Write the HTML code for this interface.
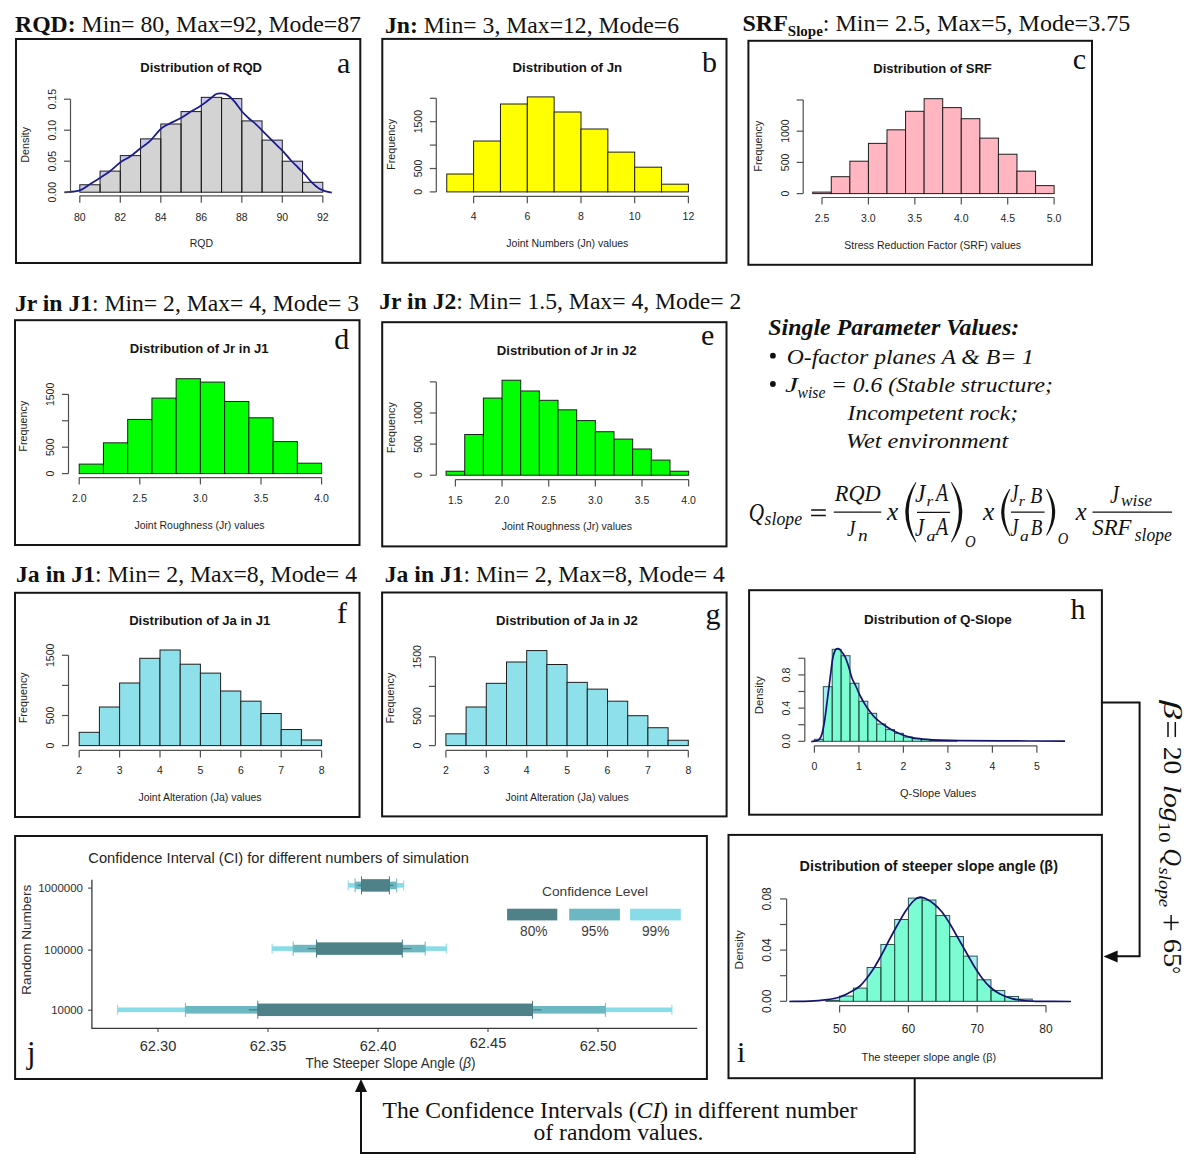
<!DOCTYPE html>
<html><head><meta charset="utf-8"><title>Figure</title>
<style>html,body{margin:0;padding:0;background:#fff;} svg{display:block;}</style></head>
<body><svg width="1200" height="1161" viewBox="0 0 1200 1161">
<rect width="1200" height="1161" fill="#ffffff"/>
<text x="15" y="31.7" font-family="Liberation Serif, serif" font-size="24" fill="#111" textLength="346" lengthAdjust="spacingAndGlyphs"><tspan font-weight="bold">RQD:</tspan> Min= 80, Max=92, Mode=87</text>
<text x="385" y="32.5" font-family="Liberation Serif, serif" font-size="24" fill="#111" textLength="294" lengthAdjust="spacingAndGlyphs"><tspan font-weight="bold">Jn:</tspan> Min= 3, Max=12, Mode=6</text>
<text x="742.5" y="30.5" font-family="Liberation Serif, serif" font-size="24" fill="#111"><tspan font-weight="bold">SRF</tspan><tspan font-weight="bold" font-size="15" dy="5">Slope</tspan><tspan dy="-5">: Min= 2.5, Max=5, Mode=3.75</tspan></text>
<text x="15" y="310.8" font-family="Liberation Serif, serif" font-size="24" fill="#111" textLength="344" lengthAdjust="spacingAndGlyphs"><tspan font-weight="bold">Jr in J1</tspan>: Min= 2, Max= 4, Mode= 3</text>
<text x="379.3" y="309.3" font-family="Liberation Serif, serif" font-size="24" fill="#111" textLength="362" lengthAdjust="spacingAndGlyphs"><tspan font-weight="bold">Jr in J2</tspan>: Min= 1.5, Max= 4, Mode= 2</text>
<text x="16" y="582.1" font-family="Liberation Serif, serif" font-size="24" fill="#111" textLength="341" lengthAdjust="spacingAndGlyphs"><tspan font-weight="bold">Ja in J1</tspan>: Min= 2, Max=8, Mode= 4</text>
<text x="384.8" y="582.1" font-family="Liberation Serif, serif" font-size="24" fill="#111" textLength="340" lengthAdjust="spacingAndGlyphs"><tspan font-weight="bold">Ja in J1</tspan>: Min= 2, Max=8, Mode= 4</text>
<rect x="16" y="39" width="344.3" height="224" fill="none" stroke="#151515" stroke-width="2"/>
<text x="140.25" y="71.7" font-family="Liberation Sans, sans-serif" font-size="13.1" font-style="normal" font-weight="bold" fill="#151515" textLength="121.8" lengthAdjust="spacingAndGlyphs">Distribution of RQD</text>
<text x="337" y="72.6" font-family="Liberation Serif, serif" font-size="30" font-weight="normal" font-style="normal" text-anchor="start" fill="#111" >a</text>
<clipPath id="cla"><path d="M64.7,192.4 C67.22,192.07 75.42,191.87 79.8,190.4 C84.18,188.93 87.58,185.72 91,183.6 C94.42,181.48 97.2,179.72 100.3,177.7 C103.4,175.68 106.23,174.08 109.6,171.5 C112.97,168.92 117.13,164.67 120.5,162.2 C123.87,159.73 126.45,159.03 129.8,156.7 C133.15,154.37 137.25,150.78 140.6,148.2 C143.95,145.62 146.53,144.43 149.9,141.2 C153.27,137.97 157.7,131.63 160.8,128.8 C163.9,125.97 165.15,126 168.5,124.2 C171.85,122.4 177.02,120.2 180.9,118 C184.78,115.8 188.62,112.95 191.8,111 C194.98,109.05 197.67,107.77 200,106.3 C202.33,104.83 203.85,103.67 205.8,102.2 C207.75,100.73 209.95,98.87 211.7,97.5 C213.45,96.13 214.75,94.68 216.3,94 C217.85,93.32 219.53,93.43 221,93.4 C222.47,93.37 223.73,93.32 225.1,93.8 C226.47,94.28 227.55,94.9 229.2,96.3 C230.85,97.7 232.87,99.67 235,102.2 C237.13,104.73 239.67,108.78 242,111.5 C244.33,114.22 246.67,116.37 249,118.5 C251.33,120.63 253.67,122.17 256,124.3 C258.33,126.43 260.67,128.97 263,131.3 C265.33,133.63 267.67,135.97 270,138.3 C272.33,140.63 274.67,142.97 277,145.3 C279.33,147.63 281.67,149.77 284,152.3 C286.33,154.83 288.67,157.97 291,160.5 C293.33,163.03 295.67,165.17 298,167.5 C300.33,169.83 302.67,171.97 305,174.5 C307.33,177.03 309.67,180.37 312,182.7 C314.33,185.03 316.67,187.05 319,188.5 C321.33,189.95 323.87,190.72 326,191.4 C328.13,192.08 330.83,192.4 331.8,192.6 L331.8,197.2 L64.7,197.2 Z"/></clipPath>
<rect x="79.8" y="184.76" width="20.25" height="7.44" fill="#c9c9f2"/>
<rect x="100.05" y="171.12" width="20.25" height="21.08" fill="#c9c9f2"/>
<rect x="120.3" y="155.62" width="20.25" height="36.58" fill="#c9c9f2"/>
<rect x="140.55" y="138.88" width="20.25" height="53.32" fill="#c9c9f2"/>
<rect x="160.8" y="124" width="20.25" height="68.2" fill="#c9c9f2"/>
<rect x="181.05" y="111.6" width="20.25" height="80.6" fill="#c9c9f2"/>
<rect x="201.3" y="97.34" width="20.25" height="94.86" fill="#c9c9f2"/>
<rect x="221.55" y="98.58" width="20.25" height="93.62" fill="#c9c9f2"/>
<rect x="241.8" y="120.9" width="20.25" height="71.3" fill="#c9c9f2"/>
<rect x="262.05" y="140.12" width="20.25" height="52.08" fill="#c9c9f2"/>
<rect x="282.3" y="161.2" width="20.25" height="31" fill="#c9c9f2"/>
<rect x="302.55" y="182.28" width="20.25" height="9.92" fill="#c9c9f2"/>
<g clip-path="url(#cla)">
<rect x="79.8" y="184.76" width="20.25" height="7.44" fill="#d3d3d3"/>
<rect x="100.05" y="171.12" width="20.25" height="21.08" fill="#d3d3d3"/>
<rect x="120.3" y="155.62" width="20.25" height="36.58" fill="#d3d3d3"/>
<rect x="140.55" y="138.88" width="20.25" height="53.32" fill="#d3d3d3"/>
<rect x="160.8" y="124" width="20.25" height="68.2" fill="#d3d3d3"/>
<rect x="181.05" y="111.6" width="20.25" height="80.6" fill="#d3d3d3"/>
<rect x="201.3" y="97.34" width="20.25" height="94.86" fill="#d3d3d3"/>
<rect x="221.55" y="98.58" width="20.25" height="93.62" fill="#d3d3d3"/>
<rect x="241.8" y="120.9" width="20.25" height="71.3" fill="#d3d3d3"/>
<rect x="262.05" y="140.12" width="20.25" height="52.08" fill="#d3d3d3"/>
<rect x="282.3" y="161.2" width="20.25" height="31" fill="#d3d3d3"/>
<rect x="302.55" y="182.28" width="20.25" height="9.92" fill="#d3d3d3"/>
</g>
<rect x="79.8" y="184.76" width="20.25" height="7.44" fill="none" stroke="#1e1e1e" stroke-width="1.0"/>
<rect x="100.05" y="171.12" width="20.25" height="21.08" fill="none" stroke="#1e1e1e" stroke-width="1.0"/>
<rect x="120.3" y="155.62" width="20.25" height="36.58" fill="none" stroke="#1e1e1e" stroke-width="1.0"/>
<rect x="140.55" y="138.88" width="20.25" height="53.32" fill="none" stroke="#1e1e1e" stroke-width="1.0"/>
<rect x="160.8" y="124" width="20.25" height="68.2" fill="none" stroke="#1e1e1e" stroke-width="1.0"/>
<rect x="181.05" y="111.6" width="20.25" height="80.6" fill="none" stroke="#1e1e1e" stroke-width="1.0"/>
<rect x="201.3" y="97.34" width="20.25" height="94.86" fill="none" stroke="#1e1e1e" stroke-width="1.0"/>
<rect x="221.55" y="98.58" width="20.25" height="93.62" fill="none" stroke="#1e1e1e" stroke-width="1.0"/>
<rect x="241.8" y="120.9" width="20.25" height="71.3" fill="none" stroke="#1e1e1e" stroke-width="1.0"/>
<rect x="262.05" y="140.12" width="20.25" height="52.08" fill="none" stroke="#1e1e1e" stroke-width="1.0"/>
<rect x="282.3" y="161.2" width="20.25" height="31" fill="none" stroke="#1e1e1e" stroke-width="1.0"/>
<rect x="302.55" y="182.28" width="20.25" height="9.92" fill="none" stroke="#1e1e1e" stroke-width="1.0"/>
<path d="M64.7,192.4 C67.22,192.07 75.42,191.87 79.8,190.4 C84.18,188.93 87.58,185.72 91,183.6 C94.42,181.48 97.2,179.72 100.3,177.7 C103.4,175.68 106.23,174.08 109.6,171.5 C112.97,168.92 117.13,164.67 120.5,162.2 C123.87,159.73 126.45,159.03 129.8,156.7 C133.15,154.37 137.25,150.78 140.6,148.2 C143.95,145.62 146.53,144.43 149.9,141.2 C153.27,137.97 157.7,131.63 160.8,128.8 C163.9,125.97 165.15,126 168.5,124.2 C171.85,122.4 177.02,120.2 180.9,118 C184.78,115.8 188.62,112.95 191.8,111 C194.98,109.05 197.67,107.77 200,106.3 C202.33,104.83 203.85,103.67 205.8,102.2 C207.75,100.73 209.95,98.87 211.7,97.5 C213.45,96.13 214.75,94.68 216.3,94 C217.85,93.32 219.53,93.43 221,93.4 C222.47,93.37 223.73,93.32 225.1,93.8 C226.47,94.28 227.55,94.9 229.2,96.3 C230.85,97.7 232.87,99.67 235,102.2 C237.13,104.73 239.67,108.78 242,111.5 C244.33,114.22 246.67,116.37 249,118.5 C251.33,120.63 253.67,122.17 256,124.3 C258.33,126.43 260.67,128.97 263,131.3 C265.33,133.63 267.67,135.97 270,138.3 C272.33,140.63 274.67,142.97 277,145.3 C279.33,147.63 281.67,149.77 284,152.3 C286.33,154.83 288.67,157.97 291,160.5 C293.33,163.03 295.67,165.17 298,167.5 C300.33,169.83 302.67,171.97 305,174.5 C307.33,177.03 309.67,180.37 312,182.7 C314.33,185.03 316.67,187.05 319,188.5 C321.33,189.95 323.87,190.72 326,191.4 C328.13,192.08 330.83,192.4 331.8,192.6" fill="none" stroke="#1c1c8a" stroke-width="1.8" stroke-linejoin="round"/>
<path d="M79.8,195.8 H322.8" stroke="#505050" stroke-width="1.2" fill="none"/>
<path d="M79.8,195.8 V202.8" stroke="#505050" stroke-width="1.2"/>
<text x="79.8" y="220.7" font-family="Liberation Sans, sans-serif" font-size="10.5" font-weight="normal" font-style="normal" text-anchor="middle" fill="#1e1e1e" >80</text>
<path d="M120.3,195.8 V202.8" stroke="#505050" stroke-width="1.2"/>
<text x="120.3" y="220.7" font-family="Liberation Sans, sans-serif" font-size="10.5" font-weight="normal" font-style="normal" text-anchor="middle" fill="#1e1e1e" >82</text>
<path d="M160.8,195.8 V202.8" stroke="#505050" stroke-width="1.2"/>
<text x="160.8" y="220.7" font-family="Liberation Sans, sans-serif" font-size="10.5" font-weight="normal" font-style="normal" text-anchor="middle" fill="#1e1e1e" >84</text>
<path d="M201.3,195.8 V202.8" stroke="#505050" stroke-width="1.2"/>
<text x="201.3" y="220.7" font-family="Liberation Sans, sans-serif" font-size="10.5" font-weight="normal" font-style="normal" text-anchor="middle" fill="#1e1e1e" >86</text>
<path d="M241.8,195.8 V202.8" stroke="#505050" stroke-width="1.2"/>
<text x="241.8" y="220.7" font-family="Liberation Sans, sans-serif" font-size="10.5" font-weight="normal" font-style="normal" text-anchor="middle" fill="#1e1e1e" >88</text>
<path d="M282.3,195.8 V202.8" stroke="#505050" stroke-width="1.2"/>
<text x="282.3" y="220.7" font-family="Liberation Sans, sans-serif" font-size="10.5" font-weight="normal" font-style="normal" text-anchor="middle" fill="#1e1e1e" >90</text>
<path d="M322.8,195.8 V202.8" stroke="#505050" stroke-width="1.2"/>
<text x="322.8" y="220.7" font-family="Liberation Sans, sans-serif" font-size="10.5" font-weight="normal" font-style="normal" text-anchor="middle" fill="#1e1e1e" >92</text>
<path d="M70.5,192.2 V99.2" stroke="#505050" stroke-width="1.2" fill="none"/>
<path d="M70.5,192.2 H64" stroke="#505050" stroke-width="1.2"/>
<text transform="translate(56,192.2) rotate(-90)" font-family="Liberation Sans, sans-serif" font-size="10.5" text-anchor="middle" font-weight="normal" font-style="normal" fill="#1e1e1e">0.00</text>
<path d="M70.5,161.2 H64" stroke="#505050" stroke-width="1.2"/>
<text transform="translate(56,161.2) rotate(-90)" font-family="Liberation Sans, sans-serif" font-size="10.5" text-anchor="middle" font-weight="normal" font-style="normal" fill="#1e1e1e">0.05</text>
<path d="M70.5,130.2 H64" stroke="#505050" stroke-width="1.2"/>
<text transform="translate(56,130.2) rotate(-90)" font-family="Liberation Sans, sans-serif" font-size="10.5" text-anchor="middle" font-weight="normal" font-style="normal" fill="#1e1e1e">0.10</text>
<path d="M70.5,99.2 H64" stroke="#505050" stroke-width="1.2"/>
<text transform="translate(56,99.2) rotate(-90)" font-family="Liberation Sans, sans-serif" font-size="10.5" text-anchor="middle" font-weight="normal" font-style="normal" fill="#1e1e1e">0.15</text>
<text x="201.3" y="247.2" font-family="Liberation Sans, sans-serif" font-size="10.5" font-weight="normal" font-style="normal" text-anchor="middle" fill="#1e1e1e" >RQD</text>
<text transform="translate(29,144.77) rotate(-90)" font-family="Liberation Sans, sans-serif" font-size="10.8" text-anchor="middle" font-weight="normal" font-style="normal" fill="#1e1e1e">Density</text>
<rect x="382.3" y="38.9" width="344.2" height="223.9" fill="none" stroke="#151515" stroke-width="2"/>
<text x="512.54" y="71.6" font-family="Liberation Sans, sans-serif" font-size="13.1" font-style="normal" font-weight="bold" fill="#151515" textLength="109.58" lengthAdjust="spacingAndGlyphs">Distribution of Jn</text>
<text x="702" y="71.6" font-family="Liberation Serif, serif" font-size="30" font-weight="normal" font-style="normal" text-anchor="start" fill="#111" >b</text>
<rect x="446.75" y="174.02" width="26.85" height="17.88" fill="#ffff00" stroke="#1e1e1e" stroke-width="1.0"/>
<rect x="473.6" y="141.03" width="26.85" height="50.87" fill="#ffff00" stroke="#1e1e1e" stroke-width="1.0"/>
<rect x="500.45" y="104.01" width="26.85" height="87.89" fill="#ffff00" stroke="#1e1e1e" stroke-width="1.0"/>
<rect x="527.3" y="96.9" width="26.85" height="95" fill="#ffff00" stroke="#1e1e1e" stroke-width="1.0"/>
<rect x="554.15" y="112.01" width="26.85" height="79.89" fill="#ffff00" stroke="#1e1e1e" stroke-width="1.0"/>
<rect x="581" y="129" width="26.85" height="62.9" fill="#ffff00" stroke="#1e1e1e" stroke-width="1.0"/>
<rect x="607.85" y="152.12" width="26.85" height="39.78" fill="#ffff00" stroke="#1e1e1e" stroke-width="1.0"/>
<rect x="634.7" y="167.19" width="26.85" height="24.71" fill="#ffff00" stroke="#1e1e1e" stroke-width="1.0"/>
<rect x="661.55" y="184.18" width="26.85" height="7.72" fill="#ffff00" stroke="#1e1e1e" stroke-width="1.0"/>
<path d="M473.6,196.3 H688.4" stroke="#505050" stroke-width="1.2" fill="none"/>
<path d="M473.6,196.3 V203.3" stroke="#505050" stroke-width="1.2"/>
<text x="473.6" y="220.1" font-family="Liberation Sans, sans-serif" font-size="10.5" font-weight="normal" font-style="normal" text-anchor="middle" fill="#1e1e1e" >4</text>
<path d="M527.3,196.3 V203.3" stroke="#505050" stroke-width="1.2"/>
<text x="527.3" y="220.1" font-family="Liberation Sans, sans-serif" font-size="10.5" font-weight="normal" font-style="normal" text-anchor="middle" fill="#1e1e1e" >6</text>
<path d="M581,196.3 V203.3" stroke="#505050" stroke-width="1.2"/>
<text x="581" y="220.1" font-family="Liberation Sans, sans-serif" font-size="10.5" font-weight="normal" font-style="normal" text-anchor="middle" fill="#1e1e1e" >8</text>
<path d="M634.7,196.3 V203.3" stroke="#505050" stroke-width="1.2"/>
<text x="634.7" y="220.1" font-family="Liberation Sans, sans-serif" font-size="10.5" font-weight="normal" font-style="normal" text-anchor="middle" fill="#1e1e1e" >10</text>
<path d="M688.4,196.3 V203.3" stroke="#505050" stroke-width="1.2"/>
<text x="688.4" y="220.1" font-family="Liberation Sans, sans-serif" font-size="10.5" font-weight="normal" font-style="normal" text-anchor="middle" fill="#1e1e1e" >12</text>
<path d="M436.3,191.9 V98.3" stroke="#505050" stroke-width="1.2" fill="none"/>
<path d="M436.3,191.9 H429.8" stroke="#505050" stroke-width="1.2"/>
<text transform="translate(421.8,191.9) rotate(-90)" font-family="Liberation Sans, sans-serif" font-size="10.5" text-anchor="middle" font-weight="normal" font-style="normal" fill="#1e1e1e">0</text>
<path d="M436.3,168.5 H429.8" stroke="#505050" stroke-width="1.2"/>
<text transform="translate(421.8,168.5) rotate(-90)" font-family="Liberation Sans, sans-serif" font-size="10.5" text-anchor="middle" font-weight="normal" font-style="normal" fill="#1e1e1e">500</text>
<path d="M436.3,145.1 H429.8" stroke="#505050" stroke-width="1.2"/>
<path d="M436.3,121.7 H429.8" stroke="#505050" stroke-width="1.2"/>
<text transform="translate(421.8,121.7) rotate(-90)" font-family="Liberation Sans, sans-serif" font-size="10.5" text-anchor="middle" font-weight="normal" font-style="normal" fill="#1e1e1e">1500</text>
<path d="M436.3,98.3 H429.8" stroke="#505050" stroke-width="1.2"/>
<text x="567.35" y="246.8" font-family="Liberation Sans, sans-serif" font-size="10.5" font-weight="normal" font-style="normal" text-anchor="middle" fill="#1e1e1e" >Joint Numbers (Jn) values</text>
<text transform="translate(394.8,144.4) rotate(-90)" font-family="Liberation Sans, sans-serif" font-size="10.8" text-anchor="middle" font-weight="normal" font-style="normal" fill="#1e1e1e">Frequency</text>
<rect x="748.4" y="40.8" width="343.6" height="224" fill="none" stroke="#151515" stroke-width="2"/>
<text x="873.25" y="73.2" font-family="Liberation Sans, sans-serif" font-size="13.1" font-style="normal" font-weight="bold" fill="#151515" textLength="118.5" lengthAdjust="spacingAndGlyphs">Distribution of SRF</text>
<text x="1072.8" y="69" font-family="Liberation Serif, serif" font-size="30" font-weight="normal" font-style="normal" text-anchor="start" fill="#111" >c</text>
<rect x="812.72" y="192.1" width="18.57" height="1.5" fill="#ffb6c1" stroke="#1e1e1e" stroke-width="1.0"/>
<rect x="831.28" y="176.69" width="18.57" height="16.91" fill="#ffb6c1" stroke="#1e1e1e" stroke-width="1.0"/>
<rect x="849.86" y="161.21" width="18.57" height="32.39" fill="#ffb6c1" stroke="#1e1e1e" stroke-width="1.0"/>
<rect x="868.42" y="143.37" width="18.57" height="50.23" fill="#ffb6c1" stroke="#1e1e1e" stroke-width="1.0"/>
<rect x="887" y="129.83" width="18.57" height="63.77" fill="#ffb6c1" stroke="#1e1e1e" stroke-width="1.0"/>
<rect x="905.56" y="111.29" width="18.57" height="82.31" fill="#ffb6c1" stroke="#1e1e1e" stroke-width="1.0"/>
<rect x="924.13" y="98.69" width="18.57" height="94.91" fill="#ffb6c1" stroke="#1e1e1e" stroke-width="1.0"/>
<rect x="942.7" y="107.61" width="18.57" height="85.99" fill="#ffb6c1" stroke="#1e1e1e" stroke-width="1.0"/>
<rect x="961.27" y="118.72" width="18.57" height="74.88" fill="#ffb6c1" stroke="#1e1e1e" stroke-width="1.0"/>
<rect x="979.85" y="138.13" width="18.57" height="55.47" fill="#ffb6c1" stroke="#1e1e1e" stroke-width="1.0"/>
<rect x="998.41" y="154.23" width="18.57" height="39.37" fill="#ffb6c1" stroke="#1e1e1e" stroke-width="1.0"/>
<rect x="1016.98" y="171.14" width="18.57" height="22.46" fill="#ffb6c1" stroke="#1e1e1e" stroke-width="1.0"/>
<rect x="1035.56" y="185.61" width="18.57" height="7.99" fill="#ffb6c1" stroke="#1e1e1e" stroke-width="1.0"/>
<path d="M822,197.5 H1054.12" stroke="#505050" stroke-width="1.2" fill="none"/>
<path d="M822,197.5 V204.5" stroke="#505050" stroke-width="1.2"/>
<text x="822" y="221.8" font-family="Liberation Sans, sans-serif" font-size="10.5" font-weight="normal" font-style="normal" text-anchor="middle" fill="#1e1e1e" >2.5</text>
<path d="M868.42,197.5 V204.5" stroke="#505050" stroke-width="1.2"/>
<text x="868.42" y="221.8" font-family="Liberation Sans, sans-serif" font-size="10.5" font-weight="normal" font-style="normal" text-anchor="middle" fill="#1e1e1e" >3.0</text>
<path d="M914.85,197.5 V204.5" stroke="#505050" stroke-width="1.2"/>
<text x="914.85" y="221.8" font-family="Liberation Sans, sans-serif" font-size="10.5" font-weight="normal" font-style="normal" text-anchor="middle" fill="#1e1e1e" >3.5</text>
<path d="M961.27,197.5 V204.5" stroke="#505050" stroke-width="1.2"/>
<text x="961.27" y="221.8" font-family="Liberation Sans, sans-serif" font-size="10.5" font-weight="normal" font-style="normal" text-anchor="middle" fill="#1e1e1e" >4.0</text>
<path d="M1007.7,197.5 V204.5" stroke="#505050" stroke-width="1.2"/>
<text x="1007.7" y="221.8" font-family="Liberation Sans, sans-serif" font-size="10.5" font-weight="normal" font-style="normal" text-anchor="middle" fill="#1e1e1e" >4.5</text>
<path d="M1054.12,197.5 V204.5" stroke="#505050" stroke-width="1.2"/>
<text x="1054.12" y="221.8" font-family="Liberation Sans, sans-serif" font-size="10.5" font-weight="normal" font-style="normal" text-anchor="middle" fill="#1e1e1e" >5.0</text>
<path d="M803.2,193.6 V100" stroke="#505050" stroke-width="1.2" fill="none"/>
<path d="M803.2,193.6 H796.7" stroke="#505050" stroke-width="1.2"/>
<text transform="translate(788.7,193.6) rotate(-90)" font-family="Liberation Sans, sans-serif" font-size="10.5" text-anchor="middle" font-weight="normal" font-style="normal" fill="#1e1e1e">0</text>
<path d="M803.2,162.4 H796.7" stroke="#505050" stroke-width="1.2"/>
<text transform="translate(788.7,162.4) rotate(-90)" font-family="Liberation Sans, sans-serif" font-size="10.5" text-anchor="middle" font-weight="normal" font-style="normal" fill="#1e1e1e">500</text>
<path d="M803.2,131.2 H796.7" stroke="#505050" stroke-width="1.2"/>
<text transform="translate(788.7,131.2) rotate(-90)" font-family="Liberation Sans, sans-serif" font-size="10.5" text-anchor="middle" font-weight="normal" font-style="normal" fill="#1e1e1e">1000</text>
<path d="M803.2,100 H796.7" stroke="#505050" stroke-width="1.2"/>
<text x="932.7" y="248.5" font-family="Liberation Sans, sans-serif" font-size="10.5" font-weight="normal" font-style="normal" text-anchor="middle" fill="#1e1e1e" >Stress Reduction Factor (SRF) values</text>
<text transform="translate(761.7,146.14) rotate(-90)" font-family="Liberation Sans, sans-serif" font-size="10.8" text-anchor="middle" font-weight="normal" font-style="normal" fill="#1e1e1e">Frequency</text>
<rect x="15" y="320.2" width="344.5" height="224.8" fill="none" stroke="#151515" stroke-width="2"/>
<text x="129.85" y="353" font-family="Liberation Sans, sans-serif" font-size="13.1" font-style="normal" font-weight="bold" fill="#151515" textLength="138.8" lengthAdjust="spacingAndGlyphs">Distribution of Jr in J1</text>
<text x="334.3" y="349.4" font-family="Liberation Serif, serif" font-size="30" font-weight="normal" font-style="normal" text-anchor="start" fill="#111" >d</text>
<rect x="79.2" y="464.1" width="24.24" height="9.5" fill="#00ff00" stroke="#1e1e1e" stroke-width="1.0"/>
<rect x="103.44" y="442.82" width="24.24" height="30.78" fill="#00ff00" stroke="#1e1e1e" stroke-width="1.0"/>
<rect x="127.68" y="419.43" width="24.24" height="54.17" fill="#00ff00" stroke="#1e1e1e" stroke-width="1.0"/>
<rect x="151.92" y="398.1" width="24.24" height="75.5" fill="#00ff00" stroke="#1e1e1e" stroke-width="1.0"/>
<rect x="176.16" y="378.72" width="24.24" height="94.88" fill="#00ff00" stroke="#1e1e1e" stroke-width="1.0"/>
<rect x="200.4" y="382.1" width="24.24" height="91.5" fill="#00ff00" stroke="#1e1e1e" stroke-width="1.0"/>
<rect x="224.64" y="401.48" width="24.24" height="72.12" fill="#00ff00" stroke="#1e1e1e" stroke-width="1.0"/>
<rect x="248.88" y="417.79" width="24.24" height="55.81" fill="#00ff00" stroke="#1e1e1e" stroke-width="1.0"/>
<rect x="273.12" y="441.6" width="24.24" height="32" fill="#00ff00" stroke="#1e1e1e" stroke-width="1.0"/>
<rect x="297.36" y="463.2" width="24.24" height="10.4" fill="#00ff00" stroke="#1e1e1e" stroke-width="1.0"/>
<path d="M79.2,477.6 H321.6" stroke="#505050" stroke-width="1.2" fill="none"/>
<path d="M79.2,477.6 V484.6" stroke="#505050" stroke-width="1.2"/>
<text x="79.2" y="501.8" font-family="Liberation Sans, sans-serif" font-size="10.5" font-weight="normal" font-style="normal" text-anchor="middle" fill="#1e1e1e" >2.0</text>
<path d="M139.8,477.6 V484.6" stroke="#505050" stroke-width="1.2"/>
<text x="139.8" y="501.8" font-family="Liberation Sans, sans-serif" font-size="10.5" font-weight="normal" font-style="normal" text-anchor="middle" fill="#1e1e1e" >2.5</text>
<path d="M200.4,477.6 V484.6" stroke="#505050" stroke-width="1.2"/>
<text x="200.4" y="501.8" font-family="Liberation Sans, sans-serif" font-size="10.5" font-weight="normal" font-style="normal" text-anchor="middle" fill="#1e1e1e" >3.0</text>
<path d="M261,477.6 V484.6" stroke="#505050" stroke-width="1.2"/>
<text x="261" y="501.8" font-family="Liberation Sans, sans-serif" font-size="10.5" font-weight="normal" font-style="normal" text-anchor="middle" fill="#1e1e1e" >3.5</text>
<path d="M321.6,477.6 V484.6" stroke="#505050" stroke-width="1.2"/>
<text x="321.6" y="501.8" font-family="Liberation Sans, sans-serif" font-size="10.5" font-weight="normal" font-style="normal" text-anchor="middle" fill="#1e1e1e" >4.0</text>
<path d="M68.5,473.6 V394.4" stroke="#505050" stroke-width="1.2" fill="none"/>
<path d="M68.5,473.6 H62" stroke="#505050" stroke-width="1.2"/>
<text transform="translate(54,473.6) rotate(-90)" font-family="Liberation Sans, sans-serif" font-size="10.5" text-anchor="middle" font-weight="normal" font-style="normal" fill="#1e1e1e">0</text>
<path d="M68.5,447.2 H62" stroke="#505050" stroke-width="1.2"/>
<text transform="translate(54,447.2) rotate(-90)" font-family="Liberation Sans, sans-serif" font-size="10.5" text-anchor="middle" font-weight="normal" font-style="normal" fill="#1e1e1e">500</text>
<path d="M68.5,420.8 H62" stroke="#505050" stroke-width="1.2"/>
<path d="M68.5,394.4 H62" stroke="#505050" stroke-width="1.2"/>
<text transform="translate(54,394.4) rotate(-90)" font-family="Liberation Sans, sans-serif" font-size="10.5" text-anchor="middle" font-weight="normal" font-style="normal" fill="#1e1e1e">1500</text>
<text x="199.5" y="528.6" font-family="Liberation Sans, sans-serif" font-size="10.5" font-weight="normal" font-style="normal" text-anchor="middle" fill="#1e1e1e" >Joint Roughness (Jr) values</text>
<text transform="translate(27,426.16) rotate(-90)" font-family="Liberation Sans, sans-serif" font-size="10.8" text-anchor="middle" font-weight="normal" font-style="normal" fill="#1e1e1e">Frequency</text>
<rect x="382.2" y="322.2" width="344.3" height="224.2" fill="none" stroke="#151515" stroke-width="2"/>
<text x="496.84" y="355" font-family="Liberation Sans, sans-serif" font-size="13.1" font-style="normal" font-weight="bold" fill="#151515" textLength="139.71" lengthAdjust="spacingAndGlyphs">Distribution of Jr in J2</text>
<text x="701" y="344.5" font-family="Liberation Serif, serif" font-size="30" font-weight="normal" font-style="normal" text-anchor="start" fill="#111" >e</text>
<rect x="446.07" y="471.22" width="18.66" height="3.98" fill="#00ff00" stroke="#1e1e1e" stroke-width="1.0"/>
<rect x="464.73" y="434.52" width="18.66" height="40.68" fill="#00ff00" stroke="#1e1e1e" stroke-width="1.0"/>
<rect x="483.39" y="398.07" width="18.66" height="77.13" fill="#00ff00" stroke="#1e1e1e" stroke-width="1.0"/>
<rect x="502.05" y="380.22" width="18.66" height="94.98" fill="#00ff00" stroke="#1e1e1e" stroke-width="1.0"/>
<rect x="520.71" y="390.98" width="18.66" height="84.22" fill="#00ff00" stroke="#1e1e1e" stroke-width="1.0"/>
<rect x="539.37" y="400.31" width="18.66" height="74.89" fill="#00ff00" stroke="#1e1e1e" stroke-width="1.0"/>
<rect x="558.03" y="409.83" width="18.66" height="65.37" fill="#00ff00" stroke="#1e1e1e" stroke-width="1.0"/>
<rect x="576.69" y="420.59" width="18.66" height="54.61" fill="#00ff00" stroke="#1e1e1e" stroke-width="1.0"/>
<rect x="595.35" y="431.72" width="18.66" height="43.48" fill="#00ff00" stroke="#1e1e1e" stroke-width="1.0"/>
<rect x="614.01" y="439.12" width="18.66" height="36.08" fill="#00ff00" stroke="#1e1e1e" stroke-width="1.0"/>
<rect x="632.67" y="449.01" width="18.66" height="26.19" fill="#00ff00" stroke="#1e1e1e" stroke-width="1.0"/>
<rect x="651.33" y="460.09" width="18.66" height="15.11" fill="#00ff00" stroke="#1e1e1e" stroke-width="1.0"/>
<rect x="669.99" y="471.22" width="18.66" height="3.98" fill="#00ff00" stroke="#1e1e1e" stroke-width="1.0"/>
<path d="M455.4,479.6 H688.65" stroke="#505050" stroke-width="1.2" fill="none"/>
<path d="M455.4,479.6 V486.6" stroke="#505050" stroke-width="1.2"/>
<text x="455.4" y="503.8" font-family="Liberation Sans, sans-serif" font-size="10.5" font-weight="normal" font-style="normal" text-anchor="middle" fill="#1e1e1e" >1.5</text>
<path d="M502.05,479.6 V486.6" stroke="#505050" stroke-width="1.2"/>
<text x="502.05" y="503.8" font-family="Liberation Sans, sans-serif" font-size="10.5" font-weight="normal" font-style="normal" text-anchor="middle" fill="#1e1e1e" >2.0</text>
<path d="M548.7,479.6 V486.6" stroke="#505050" stroke-width="1.2"/>
<text x="548.7" y="503.8" font-family="Liberation Sans, sans-serif" font-size="10.5" font-weight="normal" font-style="normal" text-anchor="middle" fill="#1e1e1e" >2.5</text>
<path d="M595.35,479.6 V486.6" stroke="#505050" stroke-width="1.2"/>
<text x="595.35" y="503.8" font-family="Liberation Sans, sans-serif" font-size="10.5" font-weight="normal" font-style="normal" text-anchor="middle" fill="#1e1e1e" >3.0</text>
<path d="M642,479.6 V486.6" stroke="#505050" stroke-width="1.2"/>
<text x="642" y="503.8" font-family="Liberation Sans, sans-serif" font-size="10.5" font-weight="normal" font-style="normal" text-anchor="middle" fill="#1e1e1e" >3.5</text>
<path d="M688.65,479.6 V486.6" stroke="#505050" stroke-width="1.2"/>
<text x="688.65" y="503.8" font-family="Liberation Sans, sans-serif" font-size="10.5" font-weight="normal" font-style="normal" text-anchor="middle" fill="#1e1e1e" >4.0</text>
<path d="M436.3,475.2 V381.9" stroke="#505050" stroke-width="1.2" fill="none"/>
<path d="M436.3,475.2 H429.8" stroke="#505050" stroke-width="1.2"/>
<text transform="translate(421.8,475.2) rotate(-90)" font-family="Liberation Sans, sans-serif" font-size="10.5" text-anchor="middle" font-weight="normal" font-style="normal" fill="#1e1e1e">0</text>
<path d="M436.3,444.1 H429.8" stroke="#505050" stroke-width="1.2"/>
<text transform="translate(421.8,444.1) rotate(-90)" font-family="Liberation Sans, sans-serif" font-size="10.5" text-anchor="middle" font-weight="normal" font-style="normal" fill="#1e1e1e">500</text>
<path d="M436.3,413 H429.8" stroke="#505050" stroke-width="1.2"/>
<text transform="translate(421.8,413) rotate(-90)" font-family="Liberation Sans, sans-serif" font-size="10.5" text-anchor="middle" font-weight="normal" font-style="normal" fill="#1e1e1e">1000</text>
<path d="M436.3,381.9 H429.8" stroke="#505050" stroke-width="1.2"/>
<text x="566.85" y="530.2" font-family="Liberation Sans, sans-serif" font-size="10.5" font-weight="normal" font-style="normal" text-anchor="middle" fill="#1e1e1e" >Joint Roughness (Jr) values</text>
<text transform="translate(394.8,427.71) rotate(-90)" font-family="Liberation Sans, sans-serif" font-size="10.8" text-anchor="middle" font-weight="normal" font-style="normal" fill="#1e1e1e">Frequency</text>
<rect x="15" y="592.8" width="344.5" height="224.2" fill="none" stroke="#151515" stroke-width="2"/>
<text x="129.15" y="625.1" font-family="Liberation Sans, sans-serif" font-size="13.1" font-style="normal" font-weight="bold" fill="#151515" textLength="141.17" lengthAdjust="spacingAndGlyphs">Distribution of Ja in J1</text>
<text x="337" y="623.2" font-family="Liberation Serif, serif" font-size="30" font-weight="normal" font-style="normal" text-anchor="start" fill="#111" >f</text>
<rect x="79.2" y="732.3" width="20.2" height="13.3" fill="#8ee0ea" stroke="#1e1e1e" stroke-width="1.0"/>
<rect x="99.4" y="707.01" width="20.2" height="38.59" fill="#8ee0ea" stroke="#1e1e1e" stroke-width="1.0"/>
<rect x="119.6" y="682.99" width="20.2" height="62.61" fill="#8ee0ea" stroke="#1e1e1e" stroke-width="1.0"/>
<rect x="139.8" y="658.31" width="20.2" height="87.29" fill="#8ee0ea" stroke="#1e1e1e" stroke-width="1.0"/>
<rect x="160" y="650" width="20.2" height="95.6" fill="#8ee0ea" stroke="#1e1e1e" stroke-width="1.0"/>
<rect x="180.2" y="664.21" width="20.2" height="81.39" fill="#8ee0ea" stroke="#1e1e1e" stroke-width="1.0"/>
<rect x="200.4" y="673.12" width="20.2" height="72.48" fill="#8ee0ea" stroke="#1e1e1e" stroke-width="1.0"/>
<rect x="220.6" y="691" width="20.2" height="54.6" fill="#8ee0ea" stroke="#1e1e1e" stroke-width="1.0"/>
<rect x="240.8" y="701.17" width="20.2" height="44.43" fill="#8ee0ea" stroke="#1e1e1e" stroke-width="1.0"/>
<rect x="261" y="713.51" width="20.2" height="32.09" fill="#8ee0ea" stroke="#1e1e1e" stroke-width="1.0"/>
<rect x="281.2" y="729.53" width="20.2" height="16.07" fill="#8ee0ea" stroke="#1e1e1e" stroke-width="1.0"/>
<rect x="301.4" y="740" width="20.2" height="5.6" fill="#8ee0ea" stroke="#1e1e1e" stroke-width="1.0"/>
<path d="M79.2,750.4 H321.6" stroke="#505050" stroke-width="1.2" fill="none"/>
<path d="M79.2,750.4 V757.4" stroke="#505050" stroke-width="1.2"/>
<text x="79.2" y="773.8" font-family="Liberation Sans, sans-serif" font-size="10.5" font-weight="normal" font-style="normal" text-anchor="middle" fill="#1e1e1e" >2</text>
<path d="M119.6,750.4 V757.4" stroke="#505050" stroke-width="1.2"/>
<text x="119.6" y="773.8" font-family="Liberation Sans, sans-serif" font-size="10.5" font-weight="normal" font-style="normal" text-anchor="middle" fill="#1e1e1e" >3</text>
<path d="M160,750.4 V757.4" stroke="#505050" stroke-width="1.2"/>
<text x="160" y="773.8" font-family="Liberation Sans, sans-serif" font-size="10.5" font-weight="normal" font-style="normal" text-anchor="middle" fill="#1e1e1e" >4</text>
<path d="M200.4,750.4 V757.4" stroke="#505050" stroke-width="1.2"/>
<text x="200.4" y="773.8" font-family="Liberation Sans, sans-serif" font-size="10.5" font-weight="normal" font-style="normal" text-anchor="middle" fill="#1e1e1e" >5</text>
<path d="M240.8,750.4 V757.4" stroke="#505050" stroke-width="1.2"/>
<text x="240.8" y="773.8" font-family="Liberation Sans, sans-serif" font-size="10.5" font-weight="normal" font-style="normal" text-anchor="middle" fill="#1e1e1e" >6</text>
<path d="M281.2,750.4 V757.4" stroke="#505050" stroke-width="1.2"/>
<text x="281.2" y="773.8" font-family="Liberation Sans, sans-serif" font-size="10.5" font-weight="normal" font-style="normal" text-anchor="middle" fill="#1e1e1e" >7</text>
<path d="M321.6,750.4 V757.4" stroke="#505050" stroke-width="1.2"/>
<text x="321.6" y="773.8" font-family="Liberation Sans, sans-serif" font-size="10.5" font-weight="normal" font-style="normal" text-anchor="middle" fill="#1e1e1e" >8</text>
<path d="M68.5,745.6 V655.3" stroke="#505050" stroke-width="1.2" fill="none"/>
<path d="M68.5,745.6 H62" stroke="#505050" stroke-width="1.2"/>
<text transform="translate(54,745.6) rotate(-90)" font-family="Liberation Sans, sans-serif" font-size="10.5" text-anchor="middle" font-weight="normal" font-style="normal" fill="#1e1e1e">0</text>
<path d="M68.5,715.5 H62" stroke="#505050" stroke-width="1.2"/>
<text transform="translate(54,715.5) rotate(-90)" font-family="Liberation Sans, sans-serif" font-size="10.5" text-anchor="middle" font-weight="normal" font-style="normal" fill="#1e1e1e">500</text>
<path d="M68.5,685.4 H62" stroke="#505050" stroke-width="1.2"/>
<path d="M68.5,655.3 H62" stroke="#505050" stroke-width="1.2"/>
<text transform="translate(54,655.3) rotate(-90)" font-family="Liberation Sans, sans-serif" font-size="10.5" text-anchor="middle" font-weight="normal" font-style="normal" fill="#1e1e1e">1500</text>
<text x="200" y="800.5" font-family="Liberation Sans, sans-serif" font-size="10.5" font-weight="normal" font-style="normal" text-anchor="middle" fill="#1e1e1e" >Joint Alteration (Ja) values</text>
<text transform="translate(27,697.8) rotate(-90)" font-family="Liberation Sans, sans-serif" font-size="10.8" text-anchor="middle" font-weight="normal" font-style="normal" fill="#1e1e1e">Frequency</text>
<rect x="382.1" y="592.5" width="344.5" height="223.9" fill="none" stroke="#151515" stroke-width="2"/>
<text x="496.05" y="625" font-family="Liberation Sans, sans-serif" font-size="13.1" font-style="normal" font-weight="bold" fill="#151515" textLength="141.77" lengthAdjust="spacingAndGlyphs">Distribution of Ja in J2</text>
<text x="705.5" y="624" font-family="Liberation Serif, serif" font-size="30" font-weight="normal" font-style="normal" text-anchor="start" fill="#111" >g</text>
<rect x="445.9" y="733.82" width="20.2" height="11.78" fill="#8ee0ea" stroke="#1e1e1e" stroke-width="1.0"/>
<rect x="466.1" y="707" width="20.2" height="38.6" fill="#8ee0ea" stroke="#1e1e1e" stroke-width="1.0"/>
<rect x="486.3" y="683.32" width="20.2" height="62.28" fill="#8ee0ea" stroke="#1e1e1e" stroke-width="1.0"/>
<rect x="506.5" y="662.01" width="20.2" height="83.59" fill="#8ee0ea" stroke="#1e1e1e" stroke-width="1.0"/>
<rect x="526.7" y="650.58" width="20.2" height="95.02" fill="#8ee0ea" stroke="#1e1e1e" stroke-width="1.0"/>
<rect x="546.9" y="664.5" width="20.2" height="81.1" fill="#8ee0ea" stroke="#1e1e1e" stroke-width="1.0"/>
<rect x="567.1" y="682.37" width="20.2" height="63.23" fill="#8ee0ea" stroke="#1e1e1e" stroke-width="1.0"/>
<rect x="587.3" y="689.12" width="20.2" height="56.48" fill="#8ee0ea" stroke="#1e1e1e" stroke-width="1.0"/>
<rect x="607.5" y="701.2" width="20.2" height="44.4" fill="#8ee0ea" stroke="#1e1e1e" stroke-width="1.0"/>
<rect x="627.7" y="715.7" width="20.2" height="29.9" fill="#8ee0ea" stroke="#1e1e1e" stroke-width="1.0"/>
<rect x="647.9" y="727.72" width="20.2" height="17.88" fill="#8ee0ea" stroke="#1e1e1e" stroke-width="1.0"/>
<rect x="668.1" y="740.27" width="20.2" height="5.33" fill="#8ee0ea" stroke="#1e1e1e" stroke-width="1.0"/>
<path d="M445.9,750.4 H688.3" stroke="#505050" stroke-width="1.2" fill="none"/>
<path d="M445.9,750.4 V757.4" stroke="#505050" stroke-width="1.2"/>
<text x="445.9" y="773.8" font-family="Liberation Sans, sans-serif" font-size="10.5" font-weight="normal" font-style="normal" text-anchor="middle" fill="#1e1e1e" >2</text>
<path d="M486.3,750.4 V757.4" stroke="#505050" stroke-width="1.2"/>
<text x="486.3" y="773.8" font-family="Liberation Sans, sans-serif" font-size="10.5" font-weight="normal" font-style="normal" text-anchor="middle" fill="#1e1e1e" >3</text>
<path d="M526.7,750.4 V757.4" stroke="#505050" stroke-width="1.2"/>
<text x="526.7" y="773.8" font-family="Liberation Sans, sans-serif" font-size="10.5" font-weight="normal" font-style="normal" text-anchor="middle" fill="#1e1e1e" >4</text>
<path d="M567.1,750.4 V757.4" stroke="#505050" stroke-width="1.2"/>
<text x="567.1" y="773.8" font-family="Liberation Sans, sans-serif" font-size="10.5" font-weight="normal" font-style="normal" text-anchor="middle" fill="#1e1e1e" >5</text>
<path d="M607.5,750.4 V757.4" stroke="#505050" stroke-width="1.2"/>
<text x="607.5" y="773.8" font-family="Liberation Sans, sans-serif" font-size="10.5" font-weight="normal" font-style="normal" text-anchor="middle" fill="#1e1e1e" >6</text>
<path d="M647.9,750.4 V757.4" stroke="#505050" stroke-width="1.2"/>
<text x="647.9" y="773.8" font-family="Liberation Sans, sans-serif" font-size="10.5" font-weight="normal" font-style="normal" text-anchor="middle" fill="#1e1e1e" >7</text>
<path d="M688.3,750.4 V757.4" stroke="#505050" stroke-width="1.2"/>
<text x="688.3" y="773.8" font-family="Liberation Sans, sans-serif" font-size="10.5" font-weight="normal" font-style="normal" text-anchor="middle" fill="#1e1e1e" >8</text>
<path d="M435.4,745.6 V656.8" stroke="#505050" stroke-width="1.2" fill="none"/>
<path d="M435.4,745.6 H428.9" stroke="#505050" stroke-width="1.2"/>
<text transform="translate(420.9,745.6) rotate(-90)" font-family="Liberation Sans, sans-serif" font-size="10.5" text-anchor="middle" font-weight="normal" font-style="normal" fill="#1e1e1e">0</text>
<path d="M435.4,716 H428.9" stroke="#505050" stroke-width="1.2"/>
<text transform="translate(420.9,716) rotate(-90)" font-family="Liberation Sans, sans-serif" font-size="10.5" text-anchor="middle" font-weight="normal" font-style="normal" fill="#1e1e1e">500</text>
<path d="M435.4,686.4 H428.9" stroke="#505050" stroke-width="1.2"/>
<path d="M435.4,656.8 H428.9" stroke="#505050" stroke-width="1.2"/>
<text transform="translate(420.9,656.8) rotate(-90)" font-family="Liberation Sans, sans-serif" font-size="10.5" text-anchor="middle" font-weight="normal" font-style="normal" fill="#1e1e1e">1500</text>
<text x="567.1" y="801" font-family="Liberation Sans, sans-serif" font-size="10.5" font-weight="normal" font-style="normal" text-anchor="middle" fill="#1e1e1e" >Joint Alteration (Ja) values</text>
<text transform="translate(393.9,698.09) rotate(-90)" font-family="Liberation Sans, sans-serif" font-size="10.8" text-anchor="middle" font-weight="normal" font-style="normal" fill="#1e1e1e">Frequency</text>
<rect x="749.1" y="590.2" width="352.8" height="224.5" fill="none" stroke="#151515" stroke-width="2"/>
<text x="864.12" y="623.75" font-family="Liberation Sans, sans-serif" font-size="13.6" font-style="normal" font-weight="bold" fill="#151515" textLength="147.6" lengthAdjust="spacingAndGlyphs">Distribution of Q-Slope</text>
<text x="1070.5" y="618.6" font-family="Liberation Serif, serif" font-size="30" font-weight="normal" font-style="normal" text-anchor="start" fill="#111" >h</text>
<clipPath id="clh"><path d="M811.3,741.6 C812.53,741.32 816.92,741.2 818.7,739.9 C820.48,738.6 821,737.12 822,733.8 C823,730.48 823.82,725.63 824.7,720 C825.58,714.37 826.42,706.83 827.3,700 C828.18,693.17 829.1,685.92 830,679 C830.9,672.08 831.82,663.33 832.7,658.5 C833.58,653.67 834.42,651.63 835.3,650 C836.18,648.37 837.1,648.62 838,648.7 C838.9,648.78 839.48,649.07 840.7,650.5 C841.92,651.93 843.97,654.6 845.3,657.3 C846.63,660 847.58,663.2 848.7,666.7 C849.82,670.2 850.78,675 852,678.3 C853.22,681.6 854.67,683.63 856,686.5 C857.33,689.37 858.67,692.8 860,695.5 C861.33,698.2 862.45,700.17 864,702.7 C865.55,705.23 867.3,708.03 869.3,710.7 C871.3,713.37 873.77,716.48 876,718.7 C878.23,720.92 880.25,722.23 882.7,724 C885.15,725.77 888.03,727.75 890.7,729.3 C893.37,730.85 896.03,732.13 898.7,733.3 C901.37,734.47 904.03,735.48 906.7,736.3 C909.37,737.12 911.37,737.68 914.7,738.2 C918.03,738.72 922.48,739.08 926.7,739.4 C930.92,739.72 934.45,739.9 940,740.1 C945.55,740.3 950,740.47 960,740.6 C970,740.73 982.5,740.82 1000,740.9 C1017.5,740.98 1054.17,741.07 1065,741.1 L1065,746.3 L811.3,746.3 Z"/></clipPath>
<rect x="814.4" y="739.31" width="8.9" height="1.99" fill="#a8eef6"/>
<rect x="823.3" y="686.69" width="8.9" height="54.61" fill="#a8eef6"/>
<rect x="832.2" y="649.34" width="8.9" height="91.96" fill="#a8eef6"/>
<rect x="841.1" y="655.73" width="8.9" height="85.57" fill="#a8eef6"/>
<rect x="850" y="683.28" width="8.9" height="58.02" fill="#a8eef6"/>
<rect x="858.9" y="701.29" width="8.9" height="40.01" fill="#a8eef6"/>
<rect x="867.8" y="713.33" width="8.9" height="27.97" fill="#a8eef6"/>
<rect x="876.7" y="724.04" width="8.9" height="17.26" fill="#a8eef6"/>
<rect x="885.6" y="729.6" width="8.9" height="11.7" fill="#a8eef6"/>
<rect x="894.5" y="733.33" width="8.9" height="7.97" fill="#a8eef6"/>
<rect x="903.4" y="737.07" width="8.9" height="4.23" fill="#a8eef6"/>
<rect x="912.3" y="738.73" width="8.9" height="2.57" fill="#a8eef6"/>
<rect x="921.2" y="739.64" width="8.9" height="1.66" fill="#a8eef6"/>
<rect x="930.1" y="740.3" width="8.9" height="1" fill="#a8eef6"/>
<rect x="939" y="740.64" width="8.9" height="0.66" fill="#a8eef6"/>
<rect x="947.9" y="740.88" width="8.9" height="0.41" fill="#a8eef6"/>
<g clip-path="url(#clh)">
<rect x="814.4" y="739.31" width="8.9" height="1.99" fill="#7cfcd2"/>
<rect x="823.3" y="686.69" width="8.9" height="54.61" fill="#7cfcd2"/>
<rect x="832.2" y="649.34" width="8.9" height="91.96" fill="#7cfcd2"/>
<rect x="841.1" y="655.73" width="8.9" height="85.57" fill="#7cfcd2"/>
<rect x="850" y="683.28" width="8.9" height="58.02" fill="#7cfcd2"/>
<rect x="858.9" y="701.29" width="8.9" height="40.01" fill="#7cfcd2"/>
<rect x="867.8" y="713.33" width="8.9" height="27.97" fill="#7cfcd2"/>
<rect x="876.7" y="724.04" width="8.9" height="17.26" fill="#7cfcd2"/>
<rect x="885.6" y="729.6" width="8.9" height="11.7" fill="#7cfcd2"/>
<rect x="894.5" y="733.33" width="8.9" height="7.97" fill="#7cfcd2"/>
<rect x="903.4" y="737.07" width="8.9" height="4.23" fill="#7cfcd2"/>
<rect x="912.3" y="738.73" width="8.9" height="2.57" fill="#7cfcd2"/>
<rect x="921.2" y="739.64" width="8.9" height="1.66" fill="#7cfcd2"/>
<rect x="930.1" y="740.3" width="8.9" height="1" fill="#7cfcd2"/>
<rect x="939" y="740.64" width="8.9" height="0.66" fill="#7cfcd2"/>
<rect x="947.9" y="740.88" width="8.9" height="0.41" fill="#7cfcd2"/>
</g>
<rect x="814.4" y="739.31" width="8.9" height="1.99" fill="none" stroke="#28564a" stroke-width="1.0"/>
<rect x="823.3" y="686.69" width="8.9" height="54.61" fill="none" stroke="#28564a" stroke-width="1.0"/>
<rect x="832.2" y="649.34" width="8.9" height="91.96" fill="none" stroke="#28564a" stroke-width="1.0"/>
<rect x="841.1" y="655.73" width="8.9" height="85.57" fill="none" stroke="#28564a" stroke-width="1.0"/>
<rect x="850" y="683.28" width="8.9" height="58.02" fill="none" stroke="#28564a" stroke-width="1.0"/>
<rect x="858.9" y="701.29" width="8.9" height="40.01" fill="none" stroke="#28564a" stroke-width="1.0"/>
<rect x="867.8" y="713.33" width="8.9" height="27.97" fill="none" stroke="#28564a" stroke-width="1.0"/>
<rect x="876.7" y="724.04" width="8.9" height="17.26" fill="none" stroke="#28564a" stroke-width="1.0"/>
<rect x="885.6" y="729.6" width="8.9" height="11.7" fill="none" stroke="#28564a" stroke-width="1.0"/>
<rect x="894.5" y="733.33" width="8.9" height="7.97" fill="none" stroke="#28564a" stroke-width="1.0"/>
<rect x="903.4" y="737.07" width="8.9" height="4.23" fill="none" stroke="#28564a" stroke-width="1.0"/>
<rect x="912.3" y="738.73" width="8.9" height="2.57" fill="none" stroke="#28564a" stroke-width="1.0"/>
<rect x="921.2" y="739.64" width="8.9" height="1.66" fill="none" stroke="#28564a" stroke-width="1.0"/>
<rect x="930.1" y="740.3" width="8.9" height="1" fill="none" stroke="#28564a" stroke-width="1.0"/>
<rect x="939" y="740.64" width="8.9" height="0.66" fill="none" stroke="#28564a" stroke-width="1.0"/>
<rect x="947.9" y="740.88" width="8.9" height="0.41" fill="none" stroke="#28564a" stroke-width="1.0"/>
<path d="M811.3,741.6 C812.53,741.32 816.92,741.2 818.7,739.9 C820.48,738.6 821,737.12 822,733.8 C823,730.48 823.82,725.63 824.7,720 C825.58,714.37 826.42,706.83 827.3,700 C828.18,693.17 829.1,685.92 830,679 C830.9,672.08 831.82,663.33 832.7,658.5 C833.58,653.67 834.42,651.63 835.3,650 C836.18,648.37 837.1,648.62 838,648.7 C838.9,648.78 839.48,649.07 840.7,650.5 C841.92,651.93 843.97,654.6 845.3,657.3 C846.63,660 847.58,663.2 848.7,666.7 C849.82,670.2 850.78,675 852,678.3 C853.22,681.6 854.67,683.63 856,686.5 C857.33,689.37 858.67,692.8 860,695.5 C861.33,698.2 862.45,700.17 864,702.7 C865.55,705.23 867.3,708.03 869.3,710.7 C871.3,713.37 873.77,716.48 876,718.7 C878.23,720.92 880.25,722.23 882.7,724 C885.15,725.77 888.03,727.75 890.7,729.3 C893.37,730.85 896.03,732.13 898.7,733.3 C901.37,734.47 904.03,735.48 906.7,736.3 C909.37,737.12 911.37,737.68 914.7,738.2 C918.03,738.72 922.48,739.08 926.7,739.4 C930.92,739.72 934.45,739.9 940,740.1 C945.55,740.3 950,740.47 960,740.6 C970,740.73 982.5,740.82 1000,740.9 C1017.5,740.98 1054.17,741.07 1065,741.1" fill="none" stroke="#14146e" stroke-width="1.7" stroke-linejoin="round"/>
<path d="M814.4,745.8 H1036.9" stroke="#505050" stroke-width="1.2" fill="none"/>
<path d="M814.4,745.8 V752.8" stroke="#505050" stroke-width="1.2"/>
<text x="814.4" y="770" font-family="Liberation Sans, sans-serif" font-size="10.5" font-weight="normal" font-style="normal" text-anchor="middle" fill="#1e1e1e" >0</text>
<path d="M858.9,745.8 V752.8" stroke="#505050" stroke-width="1.2"/>
<text x="858.9" y="770" font-family="Liberation Sans, sans-serif" font-size="10.5" font-weight="normal" font-style="normal" text-anchor="middle" fill="#1e1e1e" >1</text>
<path d="M903.4,745.8 V752.8" stroke="#505050" stroke-width="1.2"/>
<text x="903.4" y="770" font-family="Liberation Sans, sans-serif" font-size="10.5" font-weight="normal" font-style="normal" text-anchor="middle" fill="#1e1e1e" >2</text>
<path d="M947.9,745.8 V752.8" stroke="#505050" stroke-width="1.2"/>
<text x="947.9" y="770" font-family="Liberation Sans, sans-serif" font-size="10.5" font-weight="normal" font-style="normal" text-anchor="middle" fill="#1e1e1e" >3</text>
<path d="M992.4,745.8 V752.8" stroke="#505050" stroke-width="1.2"/>
<text x="992.4" y="770" font-family="Liberation Sans, sans-serif" font-size="10.5" font-weight="normal" font-style="normal" text-anchor="middle" fill="#1e1e1e" >4</text>
<path d="M1036.9,745.8 V752.8" stroke="#505050" stroke-width="1.2"/>
<text x="1036.9" y="770" font-family="Liberation Sans, sans-serif" font-size="10.5" font-weight="normal" font-style="normal" text-anchor="middle" fill="#1e1e1e" >5</text>
<path d="M804.8,741.3 V658.3" stroke="#505050" stroke-width="1.2" fill="none"/>
<path d="M804.8,741.3 H798.3" stroke="#505050" stroke-width="1.2"/>
<text transform="translate(790.3,741.3) rotate(-90)" font-family="Liberation Sans, sans-serif" font-size="10.5" text-anchor="middle" font-weight="normal" font-style="normal" fill="#1e1e1e">0.0</text>
<path d="M804.8,724.7 H798.3" stroke="#505050" stroke-width="1.2"/>
<path d="M804.8,708.1 H798.3" stroke="#505050" stroke-width="1.2"/>
<text transform="translate(790.3,708.1) rotate(-90)" font-family="Liberation Sans, sans-serif" font-size="10.5" text-anchor="middle" font-weight="normal" font-style="normal" fill="#1e1e1e">0.4</text>
<path d="M804.8,691.5 H798.3" stroke="#505050" stroke-width="1.2"/>
<path d="M804.8,674.9 H798.3" stroke="#505050" stroke-width="1.2"/>
<text transform="translate(790.3,674.9) rotate(-90)" font-family="Liberation Sans, sans-serif" font-size="10.5" text-anchor="middle" font-weight="normal" font-style="normal" fill="#1e1e1e">0.8</text>
<path d="M804.8,658.3 H798.3" stroke="#505050" stroke-width="1.2"/>
<text x="938.1" y="797.4" font-family="Liberation Sans, sans-serif" font-size="11" font-weight="normal" font-style="normal" text-anchor="middle" fill="#1e1e1e" >Q-Slope Values</text>
<text transform="translate(763.3,695.32) rotate(-90)" font-family="Liberation Sans, sans-serif" font-size="11.4" text-anchor="middle" font-weight="normal" font-style="normal" fill="#1e1e1e">Density</text>
<rect x="728.5" y="834.9" width="373.4" height="243.3" fill="none" stroke="#151515" stroke-width="2"/>
<text x="799.62" y="870.5" font-family="Liberation Sans, sans-serif" font-size="14.4" font-style="normal" font-weight="bold" fill="#151515" textLength="258.3" lengthAdjust="spacingAndGlyphs">Distribution of steeper slope angle (β)</text>
<text x="737" y="1061.6" font-family="Liberation Serif, serif" font-size="30" font-weight="normal" font-style="normal" text-anchor="start" fill="#111" >i</text>
<clipPath id="cli"><path d="M789.3,1001.5 C792.75,1001.43 804.05,1001.37 810,1001.1 C815.95,1000.83 820,1000.58 825,999.9 C830,999.22 835.5,998.45 840,997 C844.5,995.55 848.67,993.03 852,991.2 C855.33,989.37 857.67,988 860,986 C862.33,984 863.67,982.2 866,979.2 C868.33,976.2 871.33,972.2 874,968 C876.67,963.8 879.33,958.92 882,954 C884.67,949.08 887.33,943.5 890,938.5 C892.67,933.5 895.33,928.67 898,924 C900.67,919.33 903.33,914.42 906,910.5 C908.67,906.58 911.67,902.72 914,900.5 C916.33,898.28 918,897.48 920,897.2 C922,896.92 923.67,897.67 926,898.8 C928.33,899.93 931.33,901.8 934,904 C936.67,906.2 939.33,908.67 942,912 C944.67,915.33 947.33,919.67 950,924 C952.67,928.33 955.33,933.33 958,938 C960.67,942.67 963.33,947.33 966,952 C968.67,956.67 971.33,961.67 974,966 C976.67,970.33 979.33,974.5 982,978 C984.67,981.5 987,984.33 990,987 C993,989.67 996.33,992.07 1000,994 C1003.67,995.93 1008,997.5 1012,998.6 C1016,999.7 1020,1000.15 1024,1000.6 C1028,1001.05 1028.17,1001.15 1036,1001.3 C1043.83,1001.45 1065.17,1001.47 1071,1001.5 L1071,1006.3 L789.3,1006.3 Z"/></clipPath>
<rect x="825.84" y="1000.28" width="13.76" height="1.02" fill="#a8eef6"/>
<rect x="839.6" y="996.05" width="13.76" height="5.25" fill="#a8eef6"/>
<rect x="853.36" y="988.12" width="13.76" height="13.18" fill="#a8eef6"/>
<rect x="867.12" y="967.51" width="13.76" height="33.79" fill="#a8eef6"/>
<rect x="880.88" y="944.47" width="13.76" height="56.83" fill="#a8eef6"/>
<rect x="894.64" y="919.51" width="13.76" height="81.79" fill="#a8eef6"/>
<rect x="908.4" y="898.13" width="13.76" height="103.17" fill="#a8eef6"/>
<rect x="922.16" y="900.05" width="13.76" height="101.25" fill="#a8eef6"/>
<rect x="935.92" y="915.54" width="13.76" height="85.76" fill="#a8eef6"/>
<rect x="949.68" y="936.53" width="13.76" height="64.77" fill="#a8eef6"/>
<rect x="963.44" y="956.12" width="13.76" height="45.18" fill="#a8eef6"/>
<rect x="977.2" y="979.8" width="13.76" height="21.5" fill="#a8eef6"/>
<rect x="990.96" y="990.55" width="13.76" height="10.75" fill="#a8eef6"/>
<rect x="1004.72" y="996.44" width="13.76" height="4.86" fill="#a8eef6"/>
<rect x="1018.48" y="999.12" width="13.76" height="2.18" fill="#a8eef6"/>
<g clip-path="url(#cli)">
<rect x="825.84" y="1000.28" width="13.76" height="1.02" fill="#7cfcd2"/>
<rect x="839.6" y="996.05" width="13.76" height="5.25" fill="#7cfcd2"/>
<rect x="853.36" y="988.12" width="13.76" height="13.18" fill="#7cfcd2"/>
<rect x="867.12" y="967.51" width="13.76" height="33.79" fill="#7cfcd2"/>
<rect x="880.88" y="944.47" width="13.76" height="56.83" fill="#7cfcd2"/>
<rect x="894.64" y="919.51" width="13.76" height="81.79" fill="#7cfcd2"/>
<rect x="908.4" y="898.13" width="13.76" height="103.17" fill="#7cfcd2"/>
<rect x="922.16" y="900.05" width="13.76" height="101.25" fill="#7cfcd2"/>
<rect x="935.92" y="915.54" width="13.76" height="85.76" fill="#7cfcd2"/>
<rect x="949.68" y="936.53" width="13.76" height="64.77" fill="#7cfcd2"/>
<rect x="963.44" y="956.12" width="13.76" height="45.18" fill="#7cfcd2"/>
<rect x="977.2" y="979.8" width="13.76" height="21.5" fill="#7cfcd2"/>
<rect x="990.96" y="990.55" width="13.76" height="10.75" fill="#7cfcd2"/>
<rect x="1004.72" y="996.44" width="13.76" height="4.86" fill="#7cfcd2"/>
<rect x="1018.48" y="999.12" width="13.76" height="2.18" fill="#7cfcd2"/>
</g>
<rect x="825.84" y="1000.28" width="13.76" height="1.02" fill="none" stroke="#28564a" stroke-width="1.0"/>
<rect x="839.6" y="996.05" width="13.76" height="5.25" fill="none" stroke="#28564a" stroke-width="1.0"/>
<rect x="853.36" y="988.12" width="13.76" height="13.18" fill="none" stroke="#28564a" stroke-width="1.0"/>
<rect x="867.12" y="967.51" width="13.76" height="33.79" fill="none" stroke="#28564a" stroke-width="1.0"/>
<rect x="880.88" y="944.47" width="13.76" height="56.83" fill="none" stroke="#28564a" stroke-width="1.0"/>
<rect x="894.64" y="919.51" width="13.76" height="81.79" fill="none" stroke="#28564a" stroke-width="1.0"/>
<rect x="908.4" y="898.13" width="13.76" height="103.17" fill="none" stroke="#28564a" stroke-width="1.0"/>
<rect x="922.16" y="900.05" width="13.76" height="101.25" fill="none" stroke="#28564a" stroke-width="1.0"/>
<rect x="935.92" y="915.54" width="13.76" height="85.76" fill="none" stroke="#28564a" stroke-width="1.0"/>
<rect x="949.68" y="936.53" width="13.76" height="64.77" fill="none" stroke="#28564a" stroke-width="1.0"/>
<rect x="963.44" y="956.12" width="13.76" height="45.18" fill="none" stroke="#28564a" stroke-width="1.0"/>
<rect x="977.2" y="979.8" width="13.76" height="21.5" fill="none" stroke="#28564a" stroke-width="1.0"/>
<rect x="990.96" y="990.55" width="13.76" height="10.75" fill="none" stroke="#28564a" stroke-width="1.0"/>
<rect x="1004.72" y="996.44" width="13.76" height="4.86" fill="none" stroke="#28564a" stroke-width="1.0"/>
<rect x="1018.48" y="999.12" width="13.76" height="2.18" fill="none" stroke="#28564a" stroke-width="1.0"/>
<path d="M789.3,1001.5 C792.75,1001.43 804.05,1001.37 810,1001.1 C815.95,1000.83 820,1000.58 825,999.9 C830,999.22 835.5,998.45 840,997 C844.5,995.55 848.67,993.03 852,991.2 C855.33,989.37 857.67,988 860,986 C862.33,984 863.67,982.2 866,979.2 C868.33,976.2 871.33,972.2 874,968 C876.67,963.8 879.33,958.92 882,954 C884.67,949.08 887.33,943.5 890,938.5 C892.67,933.5 895.33,928.67 898,924 C900.67,919.33 903.33,914.42 906,910.5 C908.67,906.58 911.67,902.72 914,900.5 C916.33,898.28 918,897.48 920,897.2 C922,896.92 923.67,897.67 926,898.8 C928.33,899.93 931.33,901.8 934,904 C936.67,906.2 939.33,908.67 942,912 C944.67,915.33 947.33,919.67 950,924 C952.67,928.33 955.33,933.33 958,938 C960.67,942.67 963.33,947.33 966,952 C968.67,956.67 971.33,961.67 974,966 C976.67,970.33 979.33,974.5 982,978 C984.67,981.5 987,984.33 990,987 C993,989.67 996.33,992.07 1000,994 C1003.67,995.93 1008,997.5 1012,998.6 C1016,999.7 1020,1000.15 1024,1000.6 C1028,1001.05 1028.17,1001.15 1036,1001.3 C1043.83,1001.45 1065.17,1001.47 1071,1001.5" fill="none" stroke="#14146e" stroke-width="1.7" stroke-linejoin="round"/>
<path d="M839.6,1005.6 H1046" stroke="#505050" stroke-width="1.2" fill="none"/>
<path d="M839.6,1005.6 V1012.6" stroke="#505050" stroke-width="1.2"/>
<text x="839.6" y="1032.6" font-family="Liberation Sans, sans-serif" font-size="12" font-weight="normal" font-style="normal" text-anchor="middle" fill="#1e1e1e" >50</text>
<path d="M908.4,1005.6 V1012.6" stroke="#505050" stroke-width="1.2"/>
<text x="908.4" y="1032.6" font-family="Liberation Sans, sans-serif" font-size="12" font-weight="normal" font-style="normal" text-anchor="middle" fill="#1e1e1e" >60</text>
<path d="M977.2,1005.6 V1012.6" stroke="#505050" stroke-width="1.2"/>
<text x="977.2" y="1032.6" font-family="Liberation Sans, sans-serif" font-size="12" font-weight="normal" font-style="normal" text-anchor="middle" fill="#1e1e1e" >70</text>
<path d="M1046,1005.6 V1012.6" stroke="#505050" stroke-width="1.2"/>
<text x="1046" y="1032.6" font-family="Liberation Sans, sans-serif" font-size="12" font-weight="normal" font-style="normal" text-anchor="middle" fill="#1e1e1e" >80</text>
<path d="M786.6,1001.3 V898.9" stroke="#505050" stroke-width="1.2" fill="none"/>
<path d="M786.6,1001.3 H780.1" stroke="#505050" stroke-width="1.2"/>
<text transform="translate(771.1,1001.3) rotate(-90)" font-family="Liberation Sans, sans-serif" font-size="12" text-anchor="middle" font-weight="normal" font-style="normal" fill="#1e1e1e">0.00</text>
<path d="M786.6,975.7 H780.1" stroke="#505050" stroke-width="1.2"/>
<path d="M786.6,950.1 H780.1" stroke="#505050" stroke-width="1.2"/>
<text transform="translate(771.1,950.1) rotate(-90)" font-family="Liberation Sans, sans-serif" font-size="12" text-anchor="middle" font-weight="normal" font-style="normal" fill="#1e1e1e">0.04</text>
<path d="M786.6,924.5 H780.1" stroke="#505050" stroke-width="1.2"/>
<path d="M786.6,898.9 H780.1" stroke="#505050" stroke-width="1.2"/>
<text transform="translate(771.1,898.9) rotate(-90)" font-family="Liberation Sans, sans-serif" font-size="12" text-anchor="middle" font-weight="normal" font-style="normal" fill="#1e1e1e">0.08</text>
<text x="928.9" y="1060.6" font-family="Liberation Sans, sans-serif" font-size="11" font-weight="normal" font-style="normal" text-anchor="middle" fill="#1e1e1e" >The steeper slope angle (β)</text>
<text transform="translate(743.2,949.72) rotate(-90)" font-family="Liberation Sans, sans-serif" font-size="11.8" text-anchor="middle" font-weight="normal" font-style="normal" fill="#1e1e1e">Density</text>
<rect x="15.1" y="836" width="691.8" height="243" fill="none" stroke="#151515" stroke-width="2"/>
<text x="88.3" y="862.5" font-family="Liberation Sans, sans-serif" font-size="15" font-weight="normal" font-style="normal" text-anchor="start" fill="#242424" textLength="380.5" lengthAdjust="spacingAndGlyphs" >Confidence Interval (CI) for different numbers of simulation</text>
<path d="M91.9,879.7 V1028.3 H697.2" stroke="#3a3a3a" stroke-width="1.3" fill="none"/>
<path d="M158,1028.3 V1032" stroke="#3a3a3a" stroke-width="1"/>
<text x="158" y="1050.7" font-family="Liberation Sans, sans-serif" font-size="14.2" font-weight="normal" font-style="normal" text-anchor="middle" fill="#2e2e2e" textLength="36.5" lengthAdjust="spacingAndGlyphs" >62.30</text>
<path d="M268,1028.3 V1032" stroke="#3a3a3a" stroke-width="1"/>
<text x="268" y="1050.7" font-family="Liberation Sans, sans-serif" font-size="14.2" font-weight="normal" font-style="normal" text-anchor="middle" fill="#2e2e2e" textLength="36.5" lengthAdjust="spacingAndGlyphs" >62.35</text>
<path d="M378,1028.3 V1032" stroke="#3a3a3a" stroke-width="1"/>
<text x="378" y="1050.8" font-family="Liberation Sans, sans-serif" font-size="14.2" font-weight="normal" font-style="normal" text-anchor="middle" fill="#2e2e2e" textLength="36.5" lengthAdjust="spacingAndGlyphs" >62.40</text>
<path d="M488,1028.3 V1032" stroke="#3a3a3a" stroke-width="1"/>
<text x="488" y="1048" font-family="Liberation Sans, sans-serif" font-size="14.2" font-weight="normal" font-style="normal" text-anchor="middle" fill="#2e2e2e" textLength="36.5" lengthAdjust="spacingAndGlyphs" >62.45</text>
<path d="M598,1028.3 V1032" stroke="#3a3a3a" stroke-width="1"/>
<text x="598" y="1051" font-family="Liberation Sans, sans-serif" font-size="14.2" font-weight="normal" font-style="normal" text-anchor="middle" fill="#2e2e2e" textLength="36.5" lengthAdjust="spacingAndGlyphs" >62.50</text>
<path d="M88,888.1 H91.9" stroke="#3a3a3a" stroke-width="1"/>
<text x="83" y="892.2" font-family="Liberation Sans, sans-serif" font-size="11.6" font-weight="normal" font-style="normal" text-anchor="end" fill="#2e2e2e" textLength="44.8" lengthAdjust="spacingAndGlyphs" >1000000</text>
<path d="M88,950.1 H91.9" stroke="#3a3a3a" stroke-width="1"/>
<text x="83" y="954.2" font-family="Liberation Sans, sans-serif" font-size="11.6" font-weight="normal" font-style="normal" text-anchor="end" fill="#2e2e2e" textLength="38.9" lengthAdjust="spacingAndGlyphs" >100000</text>
<path d="M88,1010.2 H91.9" stroke="#3a3a3a" stroke-width="1"/>
<text x="83" y="1014.3" font-family="Liberation Sans, sans-serif" font-size="11.6" font-weight="normal" font-style="normal" text-anchor="end" fill="#2e2e2e" textLength="31.8" lengthAdjust="spacingAndGlyphs" >10000</text>
<text transform="translate(31.2,939.8) rotate(-90)" font-family="Liberation Sans, sans-serif" font-size="12.7" text-anchor="middle" font-weight="normal" font-style="normal" fill="#2e2e2e" textLength="110" lengthAdjust="spacingAndGlyphs">Random Numbers</text>
<text x="305.5" y="1067.5" font-family="Liberation Sans, sans-serif" font-size="14" font-weight="normal" font-style="normal" text-anchor="start" fill="#2e2e2e" textLength="170" lengthAdjust="spacingAndGlyphs" >The Steeper Slope Angle (<tspan font-style="italic">β</tspan>)</text>
<rect x="348.2" y="883.1" width="55.5" height="4.6" fill="#88dce7"/>
<rect x="355.1" y="881.6" width="41.6" height="7.6" fill="#6bb8c2"/>
<rect x="361.5" y="879.15" width="27.9" height="12.5" fill="#4f8189"/>
<path d="M357.66,885.4 H361.5 M389.4,885.4 H393.24" stroke="#4a7d85" stroke-width="1.3"/>
<path d="M348.2,880.4 V890.4" stroke="#88dce7" stroke-width="1"/>
<path d="M403.7,880.4 V890.4" stroke="#88dce7" stroke-width="1"/>
<path d="M355.1,878.4 V892.4" stroke="#6bb8c2" stroke-width="1"/>
<path d="M396.7,878.4 V892.4" stroke="#6bb8c2" stroke-width="1"/>
<path d="M361.5,876.4 V894.4" stroke="#4a7a82" stroke-width="1"/>
<path d="M389.4,876.4 V894.4" stroke="#4a7a82" stroke-width="1"/>
<rect x="272.1" y="946.3" width="174.2" height="4.6" fill="#88dce7"/>
<rect x="293.2" y="944.8" width="132" height="7.6" fill="#6bb8c2"/>
<rect x="316.5" y="942.35" width="85.8" height="12.5" fill="#4f8189"/>
<path d="M307.5,948.6 H316.5 M402.3,948.6 H411.3" stroke="#4a7d85" stroke-width="1.3"/>
<path d="M272.1,943.6 V953.6" stroke="#88dce7" stroke-width="1"/>
<path d="M446.3,943.6 V953.6" stroke="#88dce7" stroke-width="1"/>
<path d="M293.2,941.6 V955.6" stroke="#6bb8c2" stroke-width="1"/>
<path d="M425.2,941.6 V955.6" stroke="#6bb8c2" stroke-width="1"/>
<path d="M316.5,939.6 V957.6" stroke="#4a7a82" stroke-width="1"/>
<path d="M402.3,939.6 V957.6" stroke="#4a7a82" stroke-width="1"/>
<rect x="117.6" y="1007.5" width="554.3" height="4.6" fill="#88dce7"/>
<rect x="185.4" y="1006" width="420" height="7.6" fill="#6bb8c2"/>
<rect x="257.8" y="1003.55" width="274.7" height="12.5" fill="#4f8189"/>
<path d="M248.8,1009.8 H257.8 M532.5,1009.8 H541.5" stroke="#4a7d85" stroke-width="1.3"/>
<path d="M117.6,1004.8 V1014.8" stroke="#88dce7" stroke-width="1"/>
<path d="M671.9,1004.8 V1014.8" stroke="#88dce7" stroke-width="1"/>
<path d="M185.4,1002.8 V1016.8" stroke="#6bb8c2" stroke-width="1"/>
<path d="M605.4,1002.8 V1016.8" stroke="#6bb8c2" stroke-width="1"/>
<path d="M257.8,1000.8 V1018.8" stroke="#4a7a82" stroke-width="1"/>
<path d="M532.5,1000.8 V1018.8" stroke="#4a7a82" stroke-width="1"/>
<text x="542" y="896.4" font-family="Liberation Sans, sans-serif" font-size="13.4" font-weight="normal" font-style="normal" text-anchor="start" fill="#3c3c3c" textLength="106" lengthAdjust="spacingAndGlyphs" >Confidence Level</text>
<rect x="507.1" y="908.7" width="50.2" height="11.7" fill="#4f8189"/>
<text x="520" y="936" font-family="Liberation Sans, sans-serif" font-size="14.8" font-weight="normal" font-style="normal" text-anchor="start" fill="#3c3c3c" textLength="27.5" lengthAdjust="spacingAndGlyphs" >80%</text>
<rect x="569.2" y="908.7" width="50.7" height="11.7" fill="#6bb8c2"/>
<text x="581.2" y="936" font-family="Liberation Sans, sans-serif" font-size="14.8" font-weight="normal" font-style="normal" text-anchor="start" fill="#3c3c3c" textLength="27.5" lengthAdjust="spacingAndGlyphs" >95%</text>
<rect x="630.1" y="908.7" width="50.7" height="11.7" fill="#88dce7"/>
<text x="641.9" y="936" font-family="Liberation Sans, sans-serif" font-size="14.8" font-weight="normal" font-style="normal" text-anchor="start" fill="#3c3c3c" textLength="27.5" lengthAdjust="spacingAndGlyphs" >99%</text>
<text x="27" y="1062.5" font-family="Liberation Serif, serif" font-size="30.5" font-weight="normal" font-style="normal" text-anchor="start" fill="#111" >j</text>
<text x="768.32" y="335" font-family="Liberation Serif, serif" font-size="22.6" font-style="italic" font-weight="bold" fill="#111" textLength="250.86" lengthAdjust="spacingAndGlyphs">Single Parameter Values:</text>
<circle cx="772.9" cy="355.7" r="2.9" fill="#111"/><circle cx="772.9" cy="384" r="2.9" fill="#111"/>
<text x="786.72" y="363.75" font-family="Liberation Serif, serif" font-size="21.5" font-style="italic" font-weight="normal" fill="#111" textLength="247.14" lengthAdjust="spacingAndGlyphs">O-factor planes A &amp; B= 1</text>
<text x="784.96" y="392.4" font-family="Liberation Serif, serif" font-size="21.5" font-style="italic" font-weight="normal" fill="#111" textLength="13.03" lengthAdjust="spacingAndGlyphs">J</text>
<text x="797.51" y="397.5" font-family="Liberation Serif, serif" font-size="16.5" font-style="italic" font-weight="normal" fill="#111" textLength="27.85" lengthAdjust="spacingAndGlyphs">wise</text>
<text x="831.04" y="392.2" font-family="Liberation Serif, serif" font-size="21.5" font-style="italic" font-weight="normal" fill="#111" textLength="221.89" lengthAdjust="spacingAndGlyphs">= 0.6 (Stable structure;</text>
<text x="847.62" y="420" font-family="Liberation Serif, serif" font-size="21.5" font-style="italic" font-weight="normal" fill="#111" textLength="170.33" lengthAdjust="spacingAndGlyphs">Incompetent rock;</text>
<text x="845.92" y="447.5" font-family="Liberation Serif, serif" font-size="21.5" font-style="italic" font-weight="normal" fill="#111" textLength="162.38" lengthAdjust="spacingAndGlyphs">Wet environment</text>
<text x="748.63" y="520.5" font-family="Liberation Serif, serif" font-size="25.5" font-style="italic" font-weight="normal" fill="#111" textLength="15.33" lengthAdjust="spacingAndGlyphs">Q</text>
<text x="764.62" y="525.1" font-family="Liberation Serif, serif" font-size="18.5" font-style="italic" font-weight="normal" fill="#111" textLength="37.43" lengthAdjust="spacingAndGlyphs">slope</text>
<path d="M811.1,510.1 H825.8 M811.1,515.6 H825.8" stroke="#111" stroke-width="1.5"/>
<path d="M833.8,512.1 H881.3" stroke="#111" stroke-width="1.3"/>
<text x="834.81" y="501" font-family="Liberation Serif, serif" font-size="23.8" font-style="italic" font-weight="normal" fill="#111" textLength="45.92" lengthAdjust="spacingAndGlyphs">RQD</text>
<text x="846.92" y="536" font-family="Liberation Serif, serif" font-size="23.8" font-style="italic" font-weight="normal" fill="#111" textLength="8.31" lengthAdjust="spacingAndGlyphs">J</text>
<text x="857.92" y="541" font-family="Liberation Serif, serif" font-size="16.2" font-style="italic" font-weight="normal" fill="#111" textLength="9.65" lengthAdjust="spacingAndGlyphs">n</text>
<text x="886.98" y="519.8" font-family="Liberation Serif, serif" font-size="26" font-style="italic" font-weight="normal" fill="#111" textLength="11.24" lengthAdjust="spacingAndGlyphs">x</text>
<text x="982.88" y="519.8" font-family="Liberation Serif, serif" font-size="26" font-style="italic" font-weight="normal" fill="#111" textLength="11.34" lengthAdjust="spacingAndGlyphs">x</text>
<text x="1075.87" y="519.8" font-family="Liberation Serif, serif" font-size="26" font-style="italic" font-weight="normal" fill="#111" textLength="10.85" lengthAdjust="spacingAndGlyphs">x</text>
<path d="M915.5,482.3 Q895.1,512.3 915.5,542.3 L916.4,542.3 Q901.1,512.3 916.4,482.3 Z" fill="#111"/>
<path d="M951.8,482.3 Q972.8,512.3 951.8,542.3 L950.9,542.3 Q966.8,512.3 950.9,482.3 Z" fill="#111"/>
<path d="M1009.5,489 Q992.9,512.5 1009.5,536 L1010.4,536 Q998.3,512.5 1010.4,489 Z" fill="#111"/>
<path d="M1047,489 Q1063.4,512.3 1047,535.5 L1046.1,535.5 Q1058,512.3 1046.1,489 Z" fill="#111"/>
<path d="M917,512.3 H950 M1011,512.2 H1044.5 M1092.5,512.1 H1172.1" stroke="#111" stroke-width="1.3"/>
<text x="914.95" y="501.8" font-family="Liberation Serif, serif" font-size="24.4" font-style="italic" font-weight="normal" fill="#111" textLength="10.39" lengthAdjust="spacingAndGlyphs">J</text>
<text x="926.61" y="506.3" font-family="Liberation Serif, serif" font-size="15" font-style="italic" font-weight="normal" fill="#111" textLength="6.67" lengthAdjust="spacingAndGlyphs">r</text>
<text x="936.09" y="501.3" font-family="Liberation Serif, serif" font-size="25" font-style="italic" font-weight="normal" fill="#111" textLength="12.13" lengthAdjust="spacingAndGlyphs">A</text>
<text x="914.99" y="535.8" font-family="Liberation Serif, serif" font-size="24.4" font-style="italic" font-weight="normal" fill="#111" textLength="9.16" lengthAdjust="spacingAndGlyphs">J</text>
<text x="926.46" y="541" font-family="Liberation Serif, serif" font-size="15" font-style="italic" font-weight="normal" fill="#111" textLength="8.95" lengthAdjust="spacingAndGlyphs">a</text>
<text x="936.09" y="535" font-family="Liberation Serif, serif" font-size="25" font-style="italic" font-weight="normal" fill="#111" textLength="12.13" lengthAdjust="spacingAndGlyphs">A</text>
<text x="964.96" y="547" font-family="Liberation Serif, serif" font-size="16.7" font-style="italic" font-weight="normal" fill="#111" textLength="10.67" lengthAdjust="spacingAndGlyphs">O</text>
<text x="1010.23" y="502" font-family="Liberation Serif, serif" font-size="24.4" font-style="italic" font-weight="normal" fill="#111" textLength="8.03" lengthAdjust="spacingAndGlyphs">J</text>
<text x="1018.87" y="506" font-family="Liberation Serif, serif" font-size="15" font-style="italic" font-weight="normal" fill="#111" textLength="6.12" lengthAdjust="spacingAndGlyphs">r</text>
<text x="1030.3" y="502.5" font-family="Liberation Serif, serif" font-size="24" font-style="italic" font-weight="normal" fill="#111" textLength="12.11" lengthAdjust="spacingAndGlyphs">B</text>
<text x="1010.23" y="535.8" font-family="Liberation Serif, serif" font-size="24.4" font-style="italic" font-weight="normal" fill="#111" textLength="8.03" lengthAdjust="spacingAndGlyphs">J</text>
<text x="1019.98" y="540.5" font-family="Liberation Serif, serif" font-size="15" font-style="italic" font-weight="normal" fill="#111" textLength="8.72" lengthAdjust="spacingAndGlyphs">a</text>
<text x="1030.81" y="535" font-family="Liberation Serif, serif" font-size="24" font-style="italic" font-weight="normal" fill="#111" textLength="11.59" lengthAdjust="spacingAndGlyphs">B</text>
<text x="1057.77" y="543.5" font-family="Liberation Serif, serif" font-size="16.7" font-style="italic" font-weight="normal" fill="#111" textLength="10.56" lengthAdjust="spacingAndGlyphs">O</text>
<text x="1110" y="502.5" font-family="Liberation Serif, serif" font-size="24.4" font-style="italic" font-weight="normal" fill="#111" textLength="8.97" lengthAdjust="spacingAndGlyphs">J</text>
<text x="1120.97" y="506.1" font-family="Liberation Serif, serif" font-size="16" font-style="italic" font-weight="normal" fill="#111" textLength="30.93" lengthAdjust="spacingAndGlyphs">wise</text>
<text x="1092.27" y="535" font-family="Liberation Serif, serif" font-size="22.7" font-style="italic" font-weight="normal" fill="#111" textLength="39.24" lengthAdjust="spacingAndGlyphs">SRF</text>
<text x="1134.72" y="541" font-family="Liberation Serif, serif" font-size="18.5" font-style="italic" font-weight="normal" fill="#111" textLength="37.03" lengthAdjust="spacingAndGlyphs">slope</text>
<path d="M1101.6,702.5 H1139.6 V956.2 H1112" fill="none" stroke="#111" stroke-width="2"/>
<path d="M1103.5,956.5 L1117.6,950.5 L1117.6,962.5 Z" fill="#111"/>
<path d="M914.7,1078 V1153 H361 V1090" fill="none" stroke="#111" stroke-width="2"/>
<path d="M361,1079 L355,1092 L367,1092 Z" fill="#111"/>
<text transform="translate(1164,700.27) rotate(90)" x="0" y="0" font-family="Liberation Serif, serif" font-size="24.5" font-style="italic" font-weight="normal" fill="#111" textLength="18.85" lengthAdjust="spacingAndGlyphs">β</text>
<path d="M1168,722 V737 M1175.3,722 V737" stroke="#111" stroke-width="1.5"/>
<text transform="translate(1164,746.66) rotate(90)" x="0" y="0" font-family="Liberation Serif, serif" font-size="24.5" font-style="normal" font-weight="normal" fill="#111" textLength="27.65" lengthAdjust="spacingAndGlyphs">20</text>
<text transform="translate(1164,785.09) rotate(90)" x="0" y="0" font-family="Liberation Serif, serif" font-size="24.5" font-style="italic" font-weight="normal" fill="#111" textLength="37.32" lengthAdjust="spacingAndGlyphs">log</text>
<text transform="translate(1158.9,821.73) rotate(90)" x="0" y="0" font-family="Liberation Serif, serif" font-size="17" font-style="normal" font-weight="normal" fill="#111" textLength="20.8" lengthAdjust="spacingAndGlyphs">10</text>
<text transform="translate(1164,848.47) rotate(90)" x="0" y="0" font-family="Liberation Serif, serif" font-size="24.5" font-style="italic" font-weight="normal" fill="#111" textLength="17.44" lengthAdjust="spacingAndGlyphs">Q</text>
<text transform="translate(1158.8,867.31) rotate(90)" x="0" y="0" font-family="Liberation Serif, serif" font-size="17.5" font-style="italic" font-weight="normal" fill="#111" textLength="39.98" lengthAdjust="spacingAndGlyphs">slope</text>
<path d="M1171.1,915 V930.2 M1163.6,922.6 H1178.7" stroke="#111" stroke-width="1.5"/>
<text transform="translate(1164.3,938.66) rotate(90)" x="0" y="0" font-family="Liberation Serif, serif" font-size="24.4" font-style="normal" font-weight="normal" fill="#111" textLength="28.48" lengthAdjust="spacingAndGlyphs">65</text>
<text transform="translate(1164.3,966.59) rotate(90)" x="0" y="0" font-family="Liberation Serif, serif" font-size="24.4" font-style="normal" font-weight="normal" fill="#111" textLength="7.21" lengthAdjust="spacingAndGlyphs">°</text>
<text x="382.5" y="1117.5" font-family="Liberation Serif, serif" font-size="23" font-weight="normal" font-style="normal" text-anchor="start" fill="#111" textLength="475" lengthAdjust="spacingAndGlyphs" >The Confidence Intervals (<tspan font-style="italic">CI</tspan>) in different number</text>
<text x="533.5" y="1140" font-family="Liberation Serif, serif" font-size="23" font-weight="normal" font-style="normal" text-anchor="start" fill="#111" textLength="170" lengthAdjust="spacingAndGlyphs" >of random values.</text>
</svg></body></html>
